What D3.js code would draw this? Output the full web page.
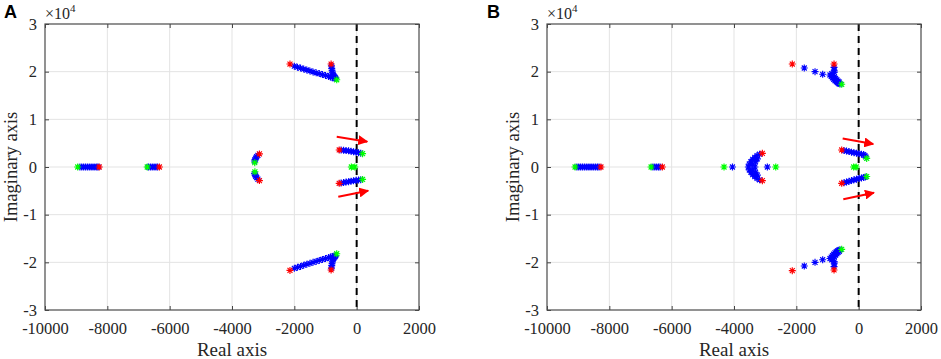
<!DOCTYPE html>
<html><head><meta charset="utf-8">
<script src="https://cdn.jsdelivr.net/npm/d3@7"></script>
<style>
body{margin:0;background:#fff;}
svg{display:block;}
</style></head>
<body><svg id="c" width="941" height="359"></svg>
<script>
// ---------- DATA (imaginary part in units of 1e4) ----------
const xTicks = [-10000, -8000, -6000, -4000, -2000, 0, 2000];
const yTicks = [-3, -2, -1, 0, 1, 2, 3];
const panelLabels = ["A", "B"];
const xLabel = "Real axis";
const yLabel = "Imaginary axis";

// Panel A
const redA = [[-8260,0],[-6330,0],[-3120,0.275],[-3120,-0.285],[-2140,2.16],[-2140,-2.17],[-820,2.16],[-820,-2.16],[-560,0.357],[-560,-0.342]];
const greenA = [[-8950,0],[-6720,0],[-3270,0.09],[-3265,-0.10],[-640,1.83],[-640,-1.82],[190,0.28],[190,-0.26],[-170,0],[-60,0]];
const blueA = [
  [-8880,0],[-8820,0],[-8760,0],[-8700,0],[-8640,0],[-8580,0],[-8520,0],[-8460,0],[-8400,0],[-8340,0],[-8300,0],
  [-6680,0],[-6620,0],[-6560,0],[-6500,0],[-6440,0],[-6390,0],
  [-3170,0.245],[-3210,0.215],[-3240,0.185],[-3260,0.155],[-3275,0.125],
  [-3170,-0.255],[-3210,-0.225],[-3240,-0.195],[-3260,-0.165],[-3275,-0.135],
  [-2000,2.115],[-1900,2.095],[-1800,2.075],[-1700,2.055],[-1600,2.035],[-1500,2.015],[-1400,1.995],[-1300,1.975],[-1200,1.96],[-1100,1.94],[-1000,1.92],[-900,1.90],[-840,1.89],[-780,1.875],[-720,1.86],
  [-810,2.12],[-800,2.07],[-790,2.03],[-780,1.99],[-765,1.95],[-745,1.92],[-720,1.90],[-690,1.88],[-670,1.86],
  [-2000,-2.125],[-1900,-2.105],[-1800,-2.085],[-1700,-2.06],[-1600,-2.04],[-1500,-2.02],[-1400,-2.0],[-1300,-1.98],[-1200,-1.96],[-1100,-1.94],[-1000,-1.92],[-900,-1.90],[-840,-1.89],[-780,-1.875],[-720,-1.86],
  [-810,-2.12],[-800,-2.07],[-790,-2.03],[-780,-1.99],[-765,-1.95],[-745,-1.92],[-720,-1.90],[-690,-1.88],[-670,-1.86],
  [-500,0.355],[-420,0.35],[-340,0.345],[-260,0.34],[-180,0.33],[-100,0.32],[-20,0.31],[60,0.30],[130,0.29],
  [-500,-0.337],[-420,-0.327],[-340,-0.317],[-260,-0.307],[-180,-0.297],[-100,-0.29],[-20,-0.28],[60,-0.274],[130,-0.266]
];
const arrowsA = [[[-640,0.636],[340,0.531]], [[-590,-0.623],[370,-0.497]]];

// Panel B
const redB = [[-8270,0],[-6300,0],[-3090,0.287],[-3090,-0.287],[-2130,2.16],[-2130,-2.175],[-790,2.16],[-790,-2.16],[-545,0.357],[-545,-0.342]];
const greenB = [[-9100,0],[-6660,0],[-4320,0],[-2660,0],[-545,1.735],[-545,-1.727],[257,0.18],[257,-0.20],[-160,0],[-80,0]];
const blueB = [
  [-9040,0],[-8980,0],[-8920,0],[-8860,0],[-8800,0],[-8740,0],[-8680,0],[-8620,0],[-8560,0],[-8500,0],[-8440,0],[-8380,0],[-8330,0],
  [-6600,0],[-6540,0],[-6480,0],[-6420,0],[-6370,0],
  [-4050,0],[-2930,0],
  [-3180,0.27],[-3260,0.24],[-3330,0.20],[-3400,0.16],[-3460,0.11],[-3510,0.06],[-3540,0],[-3510,-0.06],[-3460,-0.11],[-3400,-0.16],[-3330,-0.20],[-3260,-0.24],[-3180,-0.27],
  [-3330,0],[-3400,0.06],[-3400,-0.06],[-3310,0.11],[-3310,-0.11],[-3250,0.17],[-3250,-0.17],
  [-1745,2.077],[-1400,2.0],[-1155,1.945],
  [-920,1.93],[-880,1.90],[-840,1.87],[-800,1.84],[-760,1.81],[-720,1.79],[-680,1.77],[-640,1.75],[-600,1.74],
  [-860,1.96],[-820,1.92],[-780,1.89],[-740,1.86],[-700,1.83],[-660,1.80],[-620,1.78],
  [-790,2.09],[-785,2.03],[-780,1.99],
  [-1745,-2.077],[-1400,-2.0],[-1155,-1.945],
  [-920,-1.92],[-880,-1.89],[-840,-1.86],[-800,-1.83],[-760,-1.80],[-720,-1.78],[-680,-1.76],[-640,-1.745],[-600,-1.735],
  [-860,-1.95],[-820,-1.91],[-780,-1.88],[-740,-1.85],[-700,-1.82],[-660,-1.79],[-620,-1.77],
  [-790,-2.09],[-785,-2.03],[-780,-1.99],
  [-470,0.345],[-390,0.335],[-310,0.325],[-230,0.31],[-150,0.30],[-70,0.29],[10,0.28],[90,0.27],[160,0.26],[200,0.24],[230,0.21],
  [-470,-0.33],[-390,-0.315],[-310,-0.30],[-230,-0.285],[-150,-0.27],[-70,-0.255],[10,-0.24],[90,-0.23],[160,-0.22],[210,-0.21]
];
const arrowsB = [[[-513,0.60],[468,0.482]], [[-493,-0.678],[490,-0.539]]];

// ---------- DRAW ----------
const svg = d3.select("#c");
const defs = svg.append("defs");
defs.append("marker").attr("id","ah").attr("viewBox","0 0 10 10").attr("refX",9).attr("refY",5)
  .attr("markerWidth",5).attr("markerHeight",5).attr("orient","auto").attr("markerUnits","strokeWidth")
  .append("path").attr("d","M0,0 L10,5 L0,10 Z").attr("fill","#ff0000");

const panels = [
  {left:45, red:redA, green:greenA, blue:blueA, arrows:arrowsA, label:panelLabels[0], lx:4},
  {left:547, red:redB, green:greenB, blue:blueB, arrows:arrowsB, label:panelLabels[1], lx:487}
];
const plotTop = 24, plotBottom = 310, plotWidth = 374;
const serif = "'Liberation Serif','Times New Roman',serif";

function star(r){
  const d = r*Math.SQRT1_2;
  return `M${-r},0L${r},0M0,${-r}L0,${r}M${-d},${-d}L${d},${d}M${-d},${d}L${d},${-d}`;
}

panels.forEach(p => {
  const x = d3.scaleLinear().domain([-10000,2000]).range([p.left, p.left+plotWidth]);
  const y = d3.scaleLinear().domain([-3,3]).range([plotBottom, plotTop]);
  const g = svg.append("g");

  // grid
  g.append("g").selectAll("line").data(xTicks.slice(1,-1)).join("line")
    .attr("x1",d=>x(d)).attr("x2",d=>x(d)).attr("y1",plotTop).attr("y2",plotBottom)
    .attr("stroke","#e3e3e3").attr("stroke-width",1);
  g.append("g").selectAll("line").data(yTicks.slice(1,-1)).join("line")
    .attr("y1",d=>y(d)).attr("y2",d=>y(d)).attr("x1",p.left).attr("x2",p.left+plotWidth)
    .attr("stroke","#e3e3e3").attr("stroke-width",1);

  // dashed zero line
  g.append("line").attr("x1",x(0)).attr("x2",x(0)).attr("y1",plotTop).attr("y2",plotBottom)
    .attr("stroke","#000").attr("stroke-width",2).attr("stroke-dasharray","7,5");

  // axes (inward ticks on all sides)
  const ax = (axis) => axis.tickSizeInner(-4).tickSizeOuter(0).tickPadding(8);
  const gb = g.append("g").attr("transform",`translate(0,${plotBottom})`)
    .call(ax(d3.axisBottom(x).tickValues(xTicks).tickFormat(d=>String(d))));
  const gt = g.append("g").attr("transform",`translate(0,${plotTop})`)
    .call(ax(d3.axisTop(x).tickValues(xTicks).tickFormat("")));
  const gl = g.append("g").attr("transform",`translate(${p.left},0)`)
    .call(ax(d3.axisLeft(y).tickValues(yTicks).tickFormat(d=>String(d))));
  const gr = g.append("g").attr("transform",`translate(${p.left+plotWidth},0)`)
    .call(ax(d3.axisRight(y).tickValues(yTicks).tickFormat("")));
  [gb,gt,gl,gr].forEach(a=>{
    a.select(".domain").remove();
    a.selectAll(".tick line").attr("stroke","#444");
    a.selectAll("text").attr("font-family",serif).attr("font-size",16.5).attr("fill","#262626");
  });
  gb.selectAll("text").attr("dy","0.95em");
  g.append("rect").attr("x",p.left).attr("y",plotTop).attr("width",plotWidth).attr("height",plotBottom-plotTop)
    .attr("fill","none").attr("stroke","#4a4a4a").attr("stroke-width",1.2);

  // blue, red, green stars
  const drawStars = (data,color) => g.append("g").selectAll("path").data(data).join("path")
    .attr("transform",d=>`translate(${x(d[0])},${y(d[1])})`)
    .attr("d",star(3.5)).attr("fill","none").attr("stroke",color).attr("stroke-width",1.15);
  drawStars(p.blue,"#0000ff");
  drawStars(p.red,"#ff0000");
  drawStars(p.green,"#00ff00");

  // arrows
  g.append("g").selectAll("line").data(p.arrows).join("line")
    .attr("x1",d=>x(d[0][0])).attr("y1",d=>y(d[0][1]))
    .attr("x2",d=>x(d[1][0])).attr("y2",d=>y(d[1][1]))
    .attr("stroke","#ff0000").attr("stroke-width",2).attr("marker-end","url(#ah)");

  // exponent label
  const ex = g.append("text").attr("x",p.left).attr("y",19).attr("font-family",serif)
    .attr("font-size",16).attr("fill","#262626");
  ex.append("tspan").text("×10");
  ex.append("tspan").attr("font-size",11).attr("dy",-7).text("4");

  // axis labels
  g.append("text").attr("x",x(-4000)).attr("y",356).attr("text-anchor","middle")
    .attr("font-family",serif).attr("font-size",19).attr("fill","#262626").text(xLabel);
  g.append("text").attr("transform",`translate(${p.left-28},${y(0)}) rotate(-90)`)
    .attr("text-anchor","middle").attr("font-family",serif).attr("font-size",18.5)
    .attr("fill","#262626").text(yLabel);

  // panel label
  svg.append("text").attr("x",p.lx).attr("y",18).attr("font-family","'Liberation Sans',Arial,sans-serif")
    .attr("font-weight","bold").attr("font-size",18).attr("fill","#000").text(p.label);
});
</script></body></html>
